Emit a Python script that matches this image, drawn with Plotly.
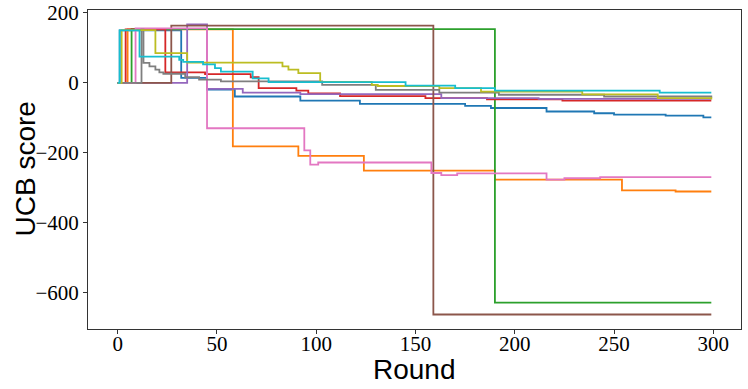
import plotly.graph_objects as go

# UCB score per arm over rounds (breakpoints, step lines)
blue_x = [0, 1, 32, 45, 59, 92, 122, 175, 188, 216, 240, 250, 276, 295, 299]
blue_y = [0, 150, 14, -19, -39, -51, -60, -66, -72, -82, -87, -91, -94, -99, -99]

orange_x = [0, 5, 58, 91, 124, 190, 254, 281, 299]
orange_y = [0, 153, -182, -209, -251, -277, -308, -311, -311]

green_x = [0, 7, 190, 299]
green_y = [0, 154, -629, -629]

red_x = [0, 4, 24, 44, 67, 71, 90, 96, 112, 155, 186, 224, 299]
red_y = [0, 153, 30, 25, 16, -15, -22, -30, -38, -44, -47, -51, -51]

purple_x = [0, 35, 45, 63, 92, 163, 212, 299]
purple_y = [0, 167, -17, -28, -32, -44, -46, -46]

brown_x = [0, 27, 159, 299]
brown_y = [0, 164, -663, -663]

pink_x = [0, 9, 45, 94, 97, 101, 158, 163, 171, 216, 225, 243, 299]
pink_y = [0, 156, -130, -193, -234, -228, -258, -264, -259, -277, -273, -270, -270]

gray_x = [0, 12, 13, 16, 19, 21, 23, 34, 41, 52, 103, 130, 162, 192, 245, 299]
gray_y = [0, 152, 57, 47, 38, 30, 26, 16, 9, 4, -6, -20, -28, -34, -39, -43]

olive_x = [0, 2, 19, 35, 83, 86, 91, 102, 128, 131, 162, 183, 234, 272, 299]
olive_y = [0, 151, 85, 58, 47, 38, 28, 3, -6, -9, -15, -25, -33, -44, -48]

cyan_x = [0, 1, 11, 31, 33, 43, 49, 52, 68, 76, 145, 170, 190, 273, 299]
cyan_y = [0, 150, 75, 66, 60, 53, 42, 32, 13, 2, -8, -15, -22, -28, -28]

series = [
    (blue_x, blue_y, '#1f77b4'),
    (orange_x, orange_y, '#ff7f0e'),
    (green_x, green_y, '#2ca02c'),
    (red_x, red_y, '#d62728'),
    (purple_x, purple_y, '#9467bd'),
    (brown_x, brown_y, '#8c564b'),
    (pink_x, pink_y, '#e377c2'),
    (gray_x, gray_y, '#7f7f7f'),
    (olive_x, olive_y, '#bcbd22'),
    (cyan_x, cyan_y, '#17becf'),
]

fig = go.Figure()
for xs, ys, col in series:
    fig.add_trace(go.Scatter(x=xs, y=ys, mode='lines', line_shape='hv',
                             line=dict(color=col, width=1.8)))

tickfont = dict(family='Liberation Serif', size=21, color='black')
titlefont = dict(family='Liberation Sans', size=28, color='black')
fig.update_layout(
    width=748, height=389,
    showlegend=False,
    plot_bgcolor='white', paper_bgcolor='white',
    margin=dict(l=88, r=7, t=10, b=60),
    annotations=[
        dict(text='Round', xref='paper', yref='paper', x=0.5, y=0, yshift=-40,
             xanchor='center', yanchor='middle', showarrow=False, font=titlefont),
        dict(text='UCB score', xref='paper', yref='paper', x=0, y=0.5, xshift=-63,
             xanchor='center', yanchor='middle', textangle=-90, showarrow=False,
             font=titlefont),
    ],
)
fig.update_xaxes(range=[-14.95, 313.95], tickvals=[0, 50, 100, 150, 200, 250, 300],
                 showgrid=False, zeroline=False, showline=True, mirror=True,
                 linecolor='#333', linewidth=1, ticks='outside', ticklen=4,
                 tickcolor='#333', tickfont=tickfont, automargin=False,
                 ticklabelstandoff=-8)
fig.update_yaxes(range=[-704.5, 208.5], tickvals=[200, 0, -200, -400, -600],
                 showgrid=False, zeroline=False, showline=True, mirror=True,
                 linecolor='#333', linewidth=1, ticks='outside', ticklen=4,
                 tickcolor='#333', tickfont=tickfont, automargin=False)

# page body has a default 8px margin; drop it so the figure sits at the corner
fig.write_html("out.html", config={'displayModeBar': False},
               post_script="document.body.style.margin='0';")
